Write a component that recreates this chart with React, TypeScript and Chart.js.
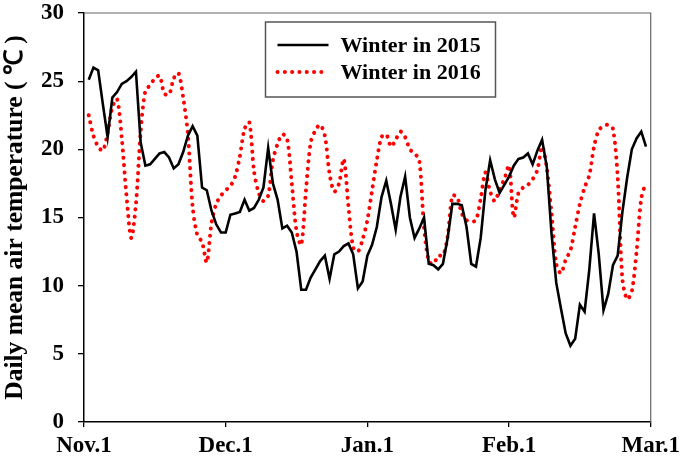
import React, { useEffect, useRef } from "react";
import { Chart, registerables } from "chart.js";

Chart.register(...registerables);

// Daily mean air temperature (°C), day 1 = Nov.1
const winter2015: number[] = [
  25.1, 26.0, 25.8, 23.3, 20.9, 23.8, 24.2, 24.8, 25.0, 25.3,
  25.7, 20.5, 18.8, 18.9, 19.3, 19.7, 19.8, 19.4, 18.6, 18.9,
  19.8, 21.0, 21.7, 21.0, 17.2, 17.0, 15.5, 14.5, 13.9, 13.9,
  15.2, 15.3, 15.4, 16.3, 15.5, 15.7, 16.3, 17.2, 20.1, 17.5,
  16.3, 14.2, 14.4, 13.9, 12.5, 9.7, 9.7, 10.6, 11.2, 11.8,
  12.2, 10.5, 12.3, 12.5, 12.9, 13.1, 12.3, 9.8, 10.3, 12.2,
  13.0, 14.3, 16.5, 17.7, 16.0, 14.1, 16.5, 18.0, 15.0, 13.5,
  14.2, 15.0, 11.6, 11.5, 11.2, 11.6, 13.5, 16.0, 16.0, 15.9,
  14.3, 11.6, 11.4, 13.5, 17.0, 19.2, 17.8, 16.8, 17.4, 18.0,
  18.8, 19.3, 19.4, 19.7, 18.9, 19.9, 20.7, 18.7, 13.8, 10.2,
  8.3, 6.5, 5.6, 6.1, 8.6, 8.1, 11.2, 15.3, 12.3, 8.2,
  9.4, 11.5, 12.2, 15.4, 17.9, 20.0, 20.8, 21.3, 20.2,
];

const winter2016: number[] = [
  22.5, 21.0, 20.2, 19.9, 21.2, 23.1, 23.7, 20.8, 16.6, 13.5,
  16.0, 21.3, 24.3, 24.7, 25.2, 25.4, 24.1, 24.0, 25.2, 25.6,
  23.8, 21.1, 15.8, 13.7, 13.2, 11.7, 14.6, 16.0, 16.6, 17.0,
  17.3, 18.0, 19.5, 21.5, 22.0, 18.4, 16.8, 16.2, 16.6, 19.2,
  20.4, 21.1, 20.8, 17.5, 14.0, 13.0, 17.0, 20.5, 21.4, 21.8,
  21.0, 18.2, 16.9, 17.5, 19.3, 15.8, 12.8, 12.5, 13.4, 14.8,
  17.0, 19.2, 20.9, 21.1, 20.2, 20.7, 21.3, 20.9, 20.0, 19.7,
  19.2, 14.3, 11.8, 11.6, 12.2, 12.2, 13.6, 16.6, 16.5, 15.3,
  14.8, 14.7, 14.8, 16.4, 18.3, 16.9, 16.2, 17.1, 17.8, 18.8,
  15.0, 16.8, 17.2, 17.4, 17.8, 18.5, 20.2, 18.6, 15.3, 11.6,
  10.9, 11.9, 12.6, 14.3, 16.0, 17.2, 18.1, 20.2, 21.4, 21.7,
  21.8, 21.5, 18.0, 10.5, 9.0, 9.6, 12.5, 16.4, 17.6,
];

const xTickDays: number[] = [0, 30, 60, 90, 120];
const xTickLabels: string[] = ["Nov.1", "Dec.1", "Jan.1", "Feb.1", "Mar.1"];
const seriesLabels: string[] = ["Winter in 2015", "Winter in 2016"];
const yTitle = "Daily mean air temperature ( \u2103 )";

const FONT = "'Liberation Serif', 'Times New Roman', serif";

const boxPlugin = {
  id: "frameAndLegend",
  afterDraw(chart: any) {
    const ctx = chart.ctx as CanvasRenderingContext2D;
    const { left, right, top, bottom } = chart.chartArea;
    ctx.save();
    // top and right frame
    ctx.strokeStyle = "#666";
    ctx.lineWidth = 1.2;
    ctx.beginPath();
    ctx.moveTo(left, top);
    ctx.lineTo(right, top);
    ctx.lineTo(right, bottom);
    ctx.stroke();

    // legend box
    const bx = 265.5, by = 22, bw = 230, bh = 75;
    ctx.fillStyle = "#fff";
    ctx.fillRect(bx, by, bw, bh);
    ctx.strokeStyle = "#555";
    ctx.lineWidth = 1.5;
    ctx.strokeRect(bx, by, bw, bh);
    chart.data.datasets.forEach((ds: any, i: number) => {
      const y = by + 23 + i * 27;
      ctx.beginPath();
      ctx.setLineDash(ds.borderDash || []);
      ctx.lineCap = ds.borderCapStyle || "butt";
      ctx.lineWidth = ds.borderWidth;
      ctx.strokeStyle = ds.borderColor;
      ctx.moveTo(bx + 12, y);
      ctx.lineTo(bx + 63, y);
      ctx.stroke();
      ctx.setLineDash([]);
      ctx.fillStyle = "#000";
      ctx.font = `bold 22px ${FONT}`;
      ctx.textBaseline = "middle";
      ctx.textAlign = "left";
      ctx.fillText(ds.label, bx + 75, y + 1);
    });
    ctx.restore();
  },
};

export default function App() {
  const ref = useRef<HTMLCanvasElement | null>(null);

  useEffect(() => {
    if (!ref.current) return;
    const chart = new Chart(ref.current, {
      type: "line",
      data: {
        datasets: [
          {
            label: seriesLabels[0],
            data: winter2015.map((v, i) => ({ x: i + 1, y: v })),
            borderColor: "#000000",
            borderWidth: 2.6,
            pointRadius: 0,
            tension: 0,
            borderCapStyle: "butt",
          },
          {
            label: seriesLabels[1],
            data: winter2016.map((v, i) => ({ x: i + 1, y: v })),
            borderColor: "#ff0000",
            borderWidth: 4,
            borderDash: [0.1, 7.2],
            borderCapStyle: "round",
            pointRadius: 0,
            tension: 0.3,
          },
        ],
      },
      options: {
        animation: false,
        responsive: false,
        devicePixelRatio: 1,
        layout: { padding: { left: 0, top: 13, right: 33, bottom: 0 } },
        plugins: {
          legend: { display: false },
          tooltip: { enabled: false },
        },
        scales: {
          x: {
            type: "linear",
            min: 0,
            max: 120,
            afterBuildTicks: (scale: any) => {
              scale.ticks = xTickDays.map((v) => ({ value: v }));
            },
            afterFit: (scale: any) => {
              scale.height = 39;
            },
            ticks: {
              autoSkip: false,
              maxRotation: 0,
              padding: 5,
              color: "#000",
              font: { family: FONT, size: 23, weight: "bold" },
              callback: (v: any) => {
                const idx = xTickDays.indexOf(Number(v));
                return idx >= 0 ? xTickLabels[idx] : "";
              },
            },
            grid: {
              display: true,
              drawOnChartArea: false,
              drawTicks: true,
              tickLength: 5,
              color: "#000",
              lineWidth: 1.3,
            },
            border: { display: true, color: "#000", width: 1.5 },
          },
          y: {
            min: 0,
            max: 30,
            afterFit: (scale: any) => {
              scale.width = 84;
              scale.paddingTop = 0;
              scale.paddingBottom = 0;
            },
            ticks: {
              stepSize: 5,
              padding: 14,
              color: "#000",
              font: { family: FONT, size: 23, weight: "bold" },
            },
            grid: {
              display: true,
              drawOnChartArea: false,
              drawTicks: true,
              tickLength: 6,
              color: "#000",
              lineWidth: 1.3,
            },
            border: { display: true, color: "#000", width: 1.5 },
            title: {
              display: true,
              text: yTitle,
              color: "#000",
              padding: { top: 0, bottom: 0 },
              font: { family: FONT, size: 25.5, weight: "bold" },
            },
          },
        },
      },
      plugins: [boxPlugin],
    });
    return () => chart.destroy();
  }, []);

  return (
    <div style={{ position: "fixed", left: 0, top: 0, width: 685, height: 461, background: "#fff" }}>
      <canvas ref={ref} width={685} height={461} style={{ display: "block" }} />
    </div>
  );
}
